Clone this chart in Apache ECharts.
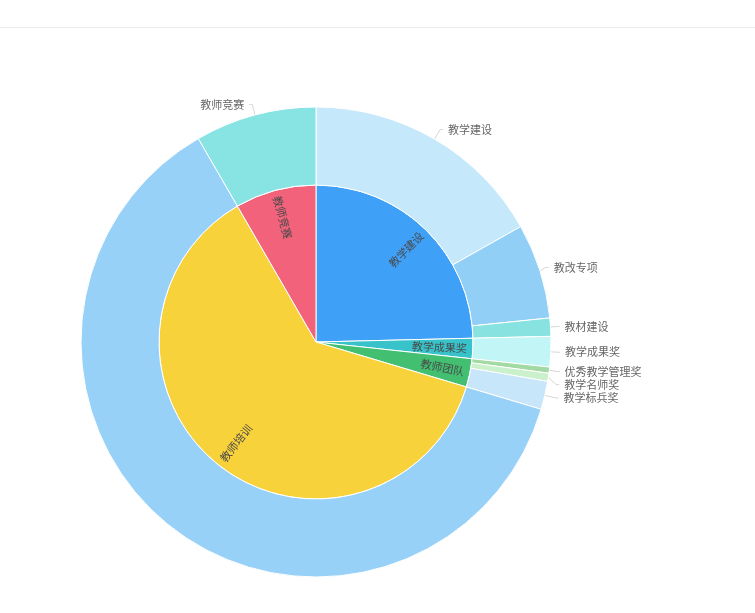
<!DOCTYPE html>
<html>
<head>
<meta charset="utf-8">
<script src="https://cdn.jsdelivr.net/npm/echarts@6/dist/echarts.min.js"></script>
<style>
  html, body { margin: 0; padding: 0; background: #fff; }
  #topline { position: absolute; left: 0; top: 27px; width: 755px; height: 1px; background: #ececec; }
  #main { width: 755px; height: 613px; }
</style>
</head>
<body>
<div id="topline"></div>
<div id="main"></div>
<script>
// 内圈：大类
var innerNames = ['教学建设', '教学成果奖', '教师团队', '教师培训', '教师竞赛'];
var innerValues = [177, 15, 21, 446, 60];
var innerColors = ['#3fa0f8', '#37c3c9', '#42bf70', '#f8d23b', '#f2637b'];

// 外圈：细分项目
var outerNames = ['教学建设', '教改专项', '教材建设', '教学成果奖', '优秀教学管理奖', '教学名师奖', '教学标兵奖', '教师培训', '教师竞赛'];
var outerValues = [121, 47, 9, 15, 3, 4, 14, 446, 60];
var outerColors = ['#c5e8fb', '#92cff7', '#88e2e0', '#c2f5f5', '#a3d9a3', '#caf1cb', '#c8e6fa', '#98d1f8', '#88e3e3'];

var fontFamily = '"Noto Sans CJK SC", sans-serif';

var innerData = innerNames.map(function (n, i) {
    return { name: n, value: innerValues[i], itemStyle: { color: innerColors[i] } };
});
var outerData = outerNames.map(function (n, i) {
    var item = { name: n, value: outerValues[i], itemStyle: { color: outerColors[i] } };
    if (n === '教师培训') {      // 外圈培训不显示标签
        item.label = { show: false };
        item.labelLine = { show: false };
    }
    return item;
});

var myChart = echarts.init(document.getElementById('main'));
myChart.setOption({
    animation: false,
    series: [
        {
            type: 'sunburst',
            center: [316, 342],
            radius: [0, 157],
            sort: null,
            data: innerData,
            itemStyle: { borderColor: '#fff', borderWidth: 1 },
            label: {
                rotate: 'radial',
                align: 'right',
                distance: 6,
                color: '#4a4a4a',
                fontSize: 11,
                fontFamily: fontFamily
            }
        },
        {
            type: 'pie',
            center: [316, 342],
            radius: [157, 235],
            startAngle: 90,
            data: outerData,
            itemStyle: { borderColor: '#fff', borderWidth: 1 },
            label: {
                color: '#666',
                fontSize: 11,
                fontFamily: fontFamily
            },
            labelLine: { length: 11, length2: 3, lineStyle: { color: '#d6d6d6' } }
        }
    ]
});
</script>
</body>
</html>
